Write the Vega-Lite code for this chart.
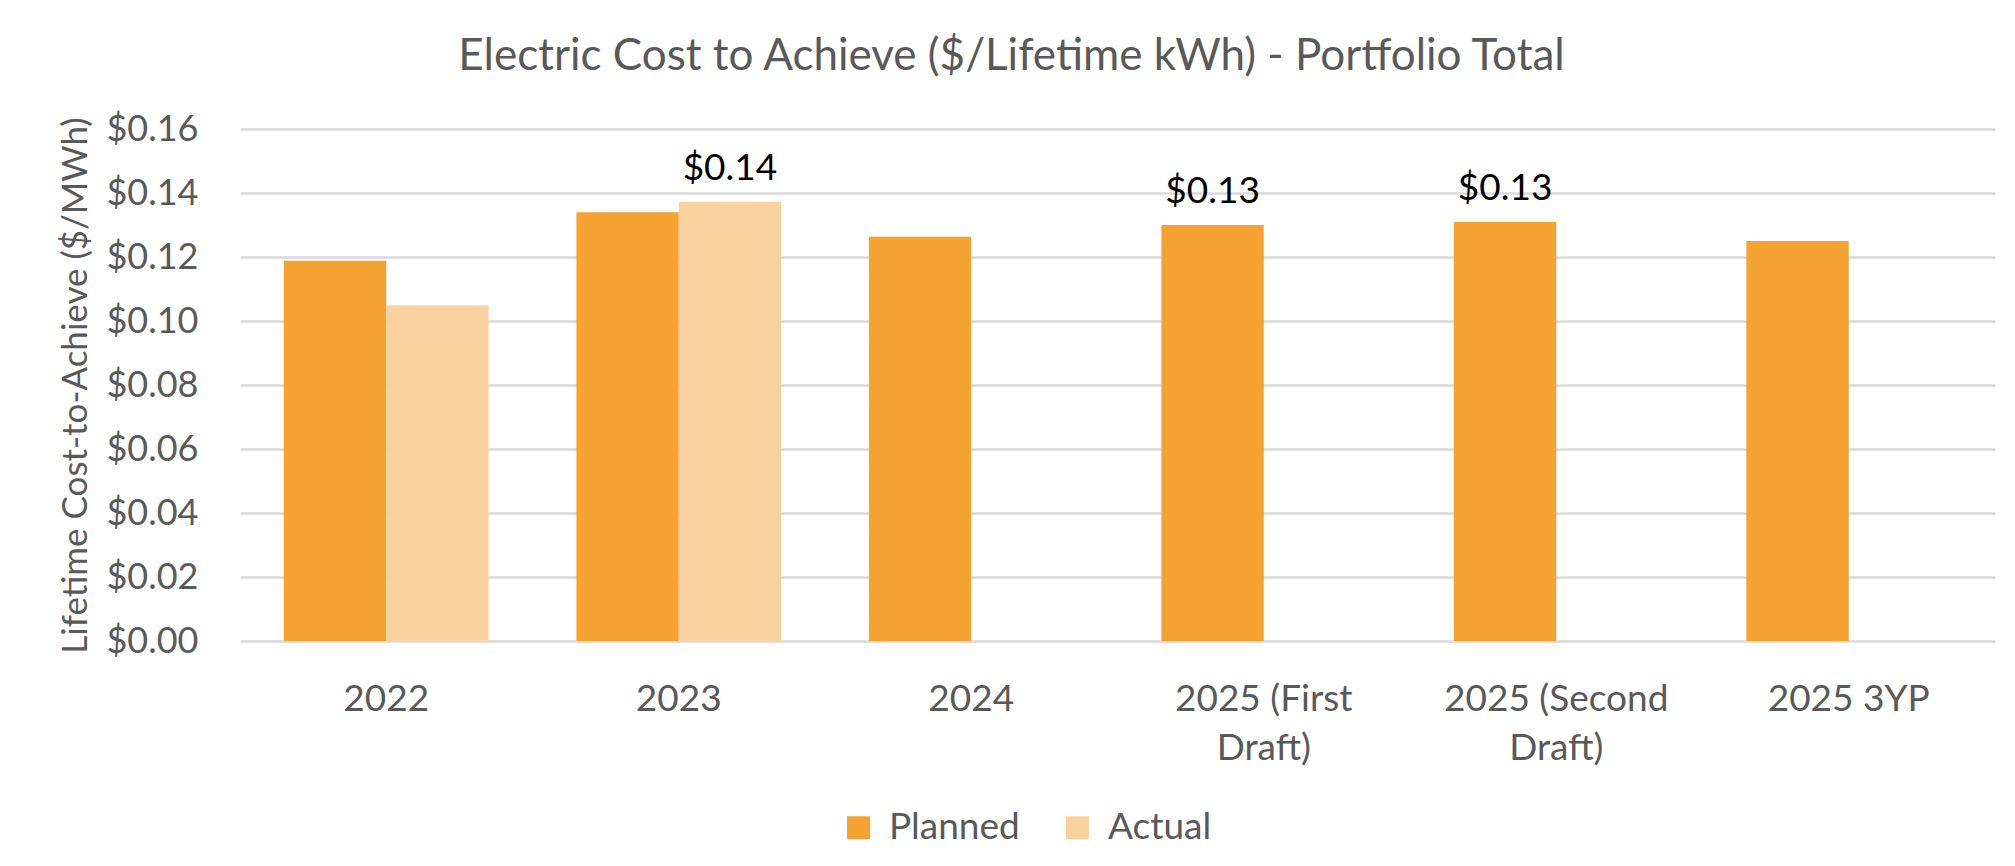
{
  "$schema": "https://vega.github.io/schema/vega-lite/v6.json",
  "autosize": {"type": "none"},
  "width": 1755,
  "height": 512,
  "padding": {"left": 240, "top": 129, "right": 20, "bottom": 225},
  "background": "white",
  "config": {
    "font": "Lato",
    "view": {"stroke": null}
  },
  "title": {
    "text": "Electric Cost to Achieve ($/Lifetime kWh) - Portfolio Total",
    "font": "Lato",
    "fontSize": 44,
    "fontWeight": "normal",
    "color": "#595959",
    "anchor": "middle",
    "dx": -106,
    "offset": 32
  },
  "data": {
    "values": [
      {"year": "2022", "series": "Planned", "value": 0.1188, "labeled": false},
      {"year": "2022", "series": "Actual", "value": 0.1049, "labeled": false},
      {"year": "2023", "series": "Planned", "value": 0.1340, "labeled": false},
      {"year": "2023", "series": "Actual", "value": 0.1373, "labeled": true},
      {"year": "2024", "series": "Planned", "value": 0.1263, "labeled": false},
      {"year": "2025 (First Draft)", "series": "Planned", "value": 0.1300, "labeled": true},
      {"year": "2025 (Second Draft)", "series": "Planned", "value": 0.1309, "labeled": true},
      {"year": "2025 3YP", "series": "Planned", "value": 0.1250, "labeled": false}
    ]
  },
  "encoding": {
    "x": {
      "field": "year",
      "type": "nominal",
      "sort": null,
      "scale": {"paddingInner": 0.3, "paddingOuter": 0.15},
      "axis": {
        "title": null,
        "labelAngle": 0,
        "domain": false,
        "ticks": false,
        "labelPadding": 40,
        "labelLimit": 0,
        "labelFont": "Lato",
        "labelFontSize": 37,
        "labelColor": "#595959",
        "labelLineHeight": 49,
        "labelBaseline": "top",
        "labelExpr": "split(replace(datum.label, ' Draft)', '|Draft)'), '|')"
      }
    },
    "xOffset": {
      "field": "series",
      "type": "nominal",
      "scale": {"domain": ["Planned", "Actual"], "paddingInner": 0, "paddingOuter": 0}
    },
    "y": {
      "field": "value",
      "type": "quantitative",
      "scale": {"domain": [0, 0.16], "nice": false},
      "axis": {
        "title": "Lifetime Cost-to-Achieve ($/MWh)",
        "titleFont": "Lato",
        "titleFontSize": 35,
        "titleFontWeight": "normal",
        "titleColor": "#595959",
        "titleX": -147,
        "titleBaseline": "bottom",
        "values": [0, 0.02, 0.04, 0.06, 0.08, 0.1, 0.12, 0.14, 0.16],
        "format": "$.2f",
        "domain": false,
        "ticks": false,
        "labelPadding": 42,
        "labelFont": "Lato",
        "labelFontSize": 36,
        "labelColor": "#595959",
        "gridColor": "#D9D9D9",
        "gridWidth": 2.5
      }
    }
  },
  "layer": [
    {
      "mark": {"type": "bar"},
      "encoding": {
        "color": {
          "field": "series",
          "type": "nominal",
          "scale": {"domain": ["Planned", "Actual"], "range": ["#F5A233", "#FAD2A0"]},
          "legend": {
            "title": null,
            "orient": "none",
            "direction": "horizontal",
            "legendX": 600,
            "legendY": 680,
            "symbolType": "square",
            "symbolSize": 529,
            "symbolStrokeWidth": 0,
            "labelFont": "Lato",
            "labelFontSize": 37,
            "labelColor": "#595959",
            "labelOffset": 12,
            "columnPadding": 39
          }
        }
      }
    },
    {
      "transform": [{"filter": "datum.labeled"}],
      "mark": {
        "type": "text",
        "baseline": "alphabetic",
        "dy": -22,
        "font": "Lato",
        "fontSize": 37,
        "color": "#000000"
      },
      "encoding": {
        "text": {"field": "value", "type": "quantitative", "format": "$.2f"}
      }
    }
  ]
}
